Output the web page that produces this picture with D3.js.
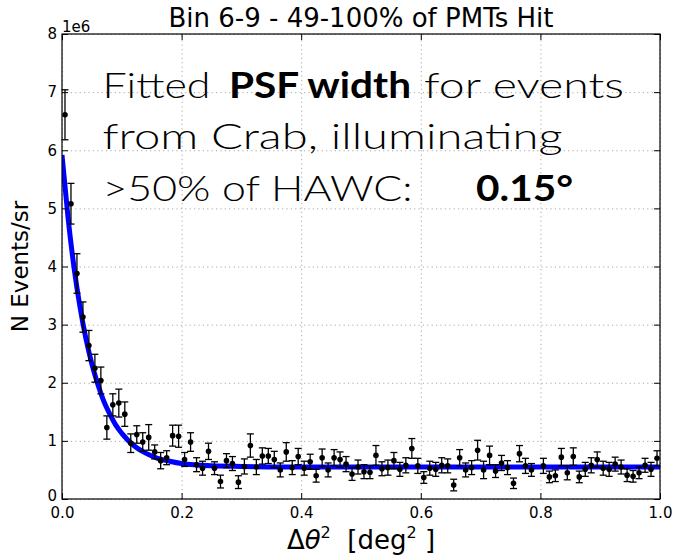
<!DOCTYPE html>
<html><head><meta charset="utf-8">
<script src="https://cdn.jsdelivr.net/npm/d3@7"></script>
<style>body{margin:0;background:#fff}</style>
</head><body><svg id="c" width="677" height="558"></svg>
<script>
// ---- data (values in units of 1e6 events/sr) ----
const binCenters = [0.005,0.015,0.025,0.035,0.045,0.055,0.065,0.075,0.085,0.095,
 0.105,0.115,0.125,0.135,0.145,0.155,0.165,0.175,0.185,0.195,
 0.205,0.215,0.225,0.235,0.245,0.255,0.265,0.275,0.285,0.295,
 0.305,0.315,0.325,0.335,0.345,0.355,0.365,0.375,0.385,0.395,
 0.405,0.415,0.425,0.435,0.445,0.455,0.465,0.475,0.485,0.495,
 0.505,0.515,0.525,0.535,0.545,0.555,0.565,0.575,0.585,0.595,
 0.605,0.615,0.625,0.635,0.645,0.655,0.665,0.675,0.685,0.695,
 0.705,0.715,0.725,0.735,0.745,0.755,0.765,0.775,0.785,0.795,
 0.805,0.815,0.825,0.835,0.845,0.855,0.865,0.875,0.885,0.895,
 0.905,0.915,0.925,0.935,0.945,0.955,0.965,0.975,0.985,0.995];
const counts = [6.61,5.08,3.88,3.13,2.64,2.25,2.04,1.23,1.62,1.65,
 1.46,0.96,1.11,0.98,1.06,0.81,0.66,0.71,1.09,1.08,
 0.68,0.98,0.59,0.53,0.82,0.53,0.30,0.66,0.61,0.29,
 0.56,0.92,0.55,0.74,0.74,0.68,0.50,0.81,0.54,0.73,
 0.53,0.64,0.40,0.71,0.50,0.71,0.68,0.60,0.43,0.55,
 0.47,0.46,0.75,0.52,0.54,0.66,0.51,0.58,0.87,0.57,
 0.37,0.53,0.51,0.58,0.57,0.24,0.71,0.50,0.54,0.84,
 0.50,0.75,0.48,0.62,0.54,0.27,0.78,0.57,0.50,null,
 0.57,0.38,0.40,0.72,0.45,0.73,0.38,0.51,0.58,0.68,
 0.53,0.51,0.60,0.55,0.41,0.39,0.45,0.58,0.51,0.70];
const errors = [0.43,0.35,0.34,0.26,0.26,0.24,0.23,0.20,0.19,0.24,
 0.21,0.16,0.15,0.16,0.22,0.12,0.14,0.12,0.18,0.19,
 0.12,0.16,0.12,0.12,0.14,0.11,0.11,0.12,0.12,0.11,
 0.13,0.20,0.13,0.14,0.13,0.14,0.12,0.16,0.12,0.14,
 0.12,0.13,0.11,0.15,0.12,0.14,0.13,0.13,0.11,0.12,
 0.12,0.11,0.17,0.12,0.13,0.14,0.12,0.13,0.17,0.13,
 0.10,0.12,0.12,0.13,0.12,0.10,0.14,0.12,0.12,0.17,
 0.15,0.16,0.11,0.13,0.12,0.09,0.14,0.13,0.11,null,
 0.13,0.10,0.10,0.15,0.12,0.15,0.10,0.12,0.13,0.13,
 0.12,0.12,0.12,0.12,0.11,0.10,0.10,0.12,0.12,0.13];
// fitted PSF curve
const fitX = [0,0.01,0.02,0.03,0.04,0.05,0.06,0.07,0.08,0.09,0.10,0.12,0.14,0.16,0.18,0.20,0.25,0.30,0.40,1.00];
const fitY = [5.92,4.85,3.99,3.31,2.76,2.32,1.97,1.68,1.46,1.27,1.13,0.92,0.79,0.70,0.65,0.61,0.57,0.56,0.55,0.55];
const xTicks = [0,0.2,0.4,0.6,0.8,1.0];
const xTickLabels = ["0.0","0.2","0.4","0.6","0.8","1.0"];
const yTicks = [0,1,2,3,4,5,6,7,8];
const yTickLabels = ["0","1","2","3","4","5","6","7","8"];
const yOffsetLabel = "1e6";
const titleText = "Bin 6-9 - 49-100% of PMTs Hit";
const yLabelText = "N Events/sr";
const noteLines = [
  [{t:"Fitted",b:false},{t:"PSF width",b:true},{t:"for events",b:false}],
  [{t:"from Crab, illuminating",b:false}],
  [{t:">50% of HAWC:",b:false},{t:"0.15°",b:true}]
];

// ---- layout ----
const L = 62, R = 660, T = 34, B = 499;
const svg = d3.select("#c");
const x = d3.scaleLinear().domain([0,1]).range([L,R]);
const y = d3.scaleLinear().domain([0,8]).range([B,T]);
const font = "'DejaVu Sans', sans-serif";

// grid
svg.append("g").attr("transform",`translate(0,${B})`)
  .call(d3.axisBottom(x).tickValues(xTicks).tickSize(-(B-T)).tickFormat(""))
  .call(g=>{g.select(".domain").remove();g.selectAll("line").attr("stroke","#a8a8a8").attr("stroke-width",1).attr("stroke-dasharray","1.2,3.2");});
svg.append("g").attr("transform",`translate(${L},0)`)
  .call(d3.axisLeft(y).tickValues(yTicks).tickSize(-(R-L)).tickFormat(""))
  .call(g=>{g.select(".domain").remove();g.selectAll("line").attr("stroke","#a8a8a8").attr("stroke-width",1).attr("stroke-dasharray","1.2,3.2");});

// clip
svg.append("clipPath").attr("id","clp").append("rect").attr("x",L).attr("y",T).attr("width",R-L).attr("height",B-T);

// fit curve
const fit = fitX.map((v,i)=>[v,fitY[i]]);
svg.append("path").datum(fit).attr("clip-path","url(#clp)")
  .attr("fill","none").attr("stroke","#0000ff").attr("stroke-width",5)
  .attr("d", d3.line().x(d=>x(d[0])).y(d=>y(d[1])).curve(d3.curveMonotoneX));

// data with error bars
const pts = binCenters.map((c,i)=>({c, v:counts[i], e:errors[i]})).filter(d=>d.v!==null);
const eb = svg.append("g").attr("stroke","#000").attr("stroke-width",1.3);
pts.forEach(d=>{
  eb.append("line").attr("x1",x(d.c)).attr("x2",x(d.c)).attr("y1",y(d.v-d.e)).attr("y2",y(d.v+d.e));
  eb.append("line").attr("x1",x(d.c)-3.5).attr("x2",x(d.c)+3.5).attr("y1",y(d.v-d.e)).attr("y2",y(d.v-d.e));
  eb.append("line").attr("x1",x(d.c)-3.5).attr("x2",x(d.c)+3.5).attr("y1",y(d.v+d.e)).attr("y2",y(d.v+d.e));
});
svg.append("g").selectAll("circle").data(pts).join("circle")
  .attr("cx",d=>x(d.c)).attr("cy",d=>y(d.v)).attr("r",2.8).attr("fill","#000");

// axes with inward ticks
const tickStyle = g=>{g.select(".domain").remove();g.selectAll("line").attr("stroke","#000");
  g.selectAll("text").attr("font-family",font).attr("font-size",15).attr("fill","#000");};
svg.append("g").attr("transform",`translate(0,${B})`)
  .call(d3.axisBottom(x).tickValues(xTicks).tickSizeInner(-6).tickSizeOuter(0).tickPadding(8).tickFormat((d,i)=>xTickLabels[i])).call(tickStyle);
svg.append("g").attr("transform",`translate(0,${T})`)
  .call(d3.axisTop(x).tickValues(xTicks).tickSizeInner(-6).tickSizeOuter(0).tickFormat("")).call(tickStyle);
svg.append("g").attr("transform",`translate(${L},0)`)
  .call(d3.axisLeft(y).tickValues(yTicks).tickSizeInner(-6).tickSizeOuter(0).tickPadding(5).tickFormat((d,i)=>yTickLabels[i])).call(tickStyle)
  .call(g=>g.selectAll(".tick").filter(d=>d===0).select("text").attr("dy","0.1em"));
svg.append("g").attr("transform",`translate(${R},0)`)
  .call(d3.axisRight(y).tickValues(yTicks).tickSizeInner(-6).tickSizeOuter(0).tickFormat("")).call(tickStyle);

// frame
svg.append("rect").attr("x",L).attr("y",T).attr("width",R-L).attr("height",B-T)
  .attr("fill","none").attr("stroke","#000").attr("stroke-width",1.2);

// offset label
svg.append("text").attr("x",L).attr("y",31.5).attr("font-family",font).attr("font-size",15).text(yOffsetLabel);

// title
svg.append("text").attr("x",(L+R)/2).attr("y",27).attr("text-anchor","middle")
  .attr("font-family",font).attr("font-size",26).text(titleText);

// y label
svg.append("text").attr("transform",`translate(28,${(T+B)/2}) rotate(-90)`).attr("text-anchor","middle")
  .attr("font-family",font).attr("font-size",23).text(yLabelText);

// x label: Δθ²  [deg² ]
const xl = svg.append("text").attr("x",(L+R)/2).attr("y",549).attr("text-anchor","middle")
  .attr("font-family",font).attr("font-size",26);
xl.append("tspan").text("Δ");
xl.append("tspan").attr("font-style","italic").text("θ");
xl.append("tspan").attr("font-size",16).attr("dy",-11).text("2");
xl.append("tspan").attr("dy",11).text("\u00a0\u00a0[deg");
xl.append("tspan").attr("font-size",16).attr("dy",-11).text("2");
xl.append("tspan").attr("dy",11).text("\u00a0]");

// annotation
const noteFont = "Lato, 'Open Sans', sans-serif";
const segPos = [
  [{x:102.5,w:108,base:97.5},{x:229,w:182,base:97.5},{x:424,w:200,base:97.5}],
  [{x:102.5,w:460,base:148.5}],
  [{x:102.5,w:310,base:201},{x:476,w:97,base:201}]
];
noteLines.forEach((line,li)=>line.forEach((s,si)=>{
  const p = segPos[li][si];
  svg.append("text").attr("x",p.x).attr("y",p.base)
    .attr("font-family",noteFont).attr("font-size",36)
    .attr("font-weight",s.b?700:300)
    .attr("textLength",p.w).attr("lengthAdjust","spacingAndGlyphs")
    .text(s.t);
}));
</script>
</body></html>
